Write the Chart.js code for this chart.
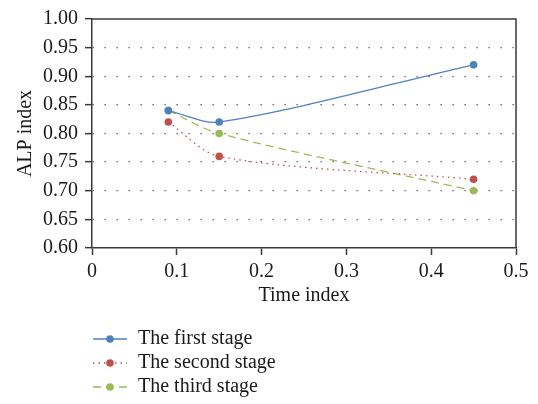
<!DOCTYPE html>
<html><head><meta charset="utf-8">
<script src="https://cdn.jsdelivr.net/npm/chart.js@4"></script>
<style>html,body{margin:0;padding:0;background:#fff}#wrap{width:538px;height:404px;position:relative}</style>
</head><body><div id="wrap"><canvas id="c"></canvas></div>
<script>
const timeIndex = [0.09, 0.15, 0.45];
const firstStage = [0.84, 0.82, 0.92];
const secondStage = [0.82, 0.76, 0.72];
const thirdStage = [0.84, 0.80, 0.70];
const seriesNames = ['The first stage', 'The second stage', 'The third stage'];
const xTitle = 'Time index';
const yTitle = 'ALP index';

const FONT = "'Liberation Serif', 'Times New Roman', serif";
const colors = ['#4f81bd', '#c0504d', '#9bbb59'];
const dashes = [[], [1.5, 4], [8, 5]];
const values = [firstStage, secondStage, thirdStage];

const datasets = values.map((v, i) => ({
  label: seriesNames[i],
  data: timeIndex.map((x, j) => ({x: x, y: v[j]})),
  borderColor: colors[i],
  backgroundColor: colors[i],
  borderWidth: 1.3,
  borderDash: dashes[i],
  pointRadius: 3.8,
  pointHoverRadius: 3.8,
  pointBorderWidth: 0,
  tension: 0.3,
  fill: false
}));

const framePlugin = {
  id: 'frame',
  afterDraw(chart) {
    const {ctx, chartArea: a} = chart;
    ctx.save();
    ctx.strokeStyle = '#3a3a3a';
    ctx.lineWidth = 1.5;
    ctx.beginPath();
    ctx.moveTo(a.left, a.top);
    ctx.lineTo(a.right, a.top);
    ctx.lineTo(a.right, a.bottom);
    ctx.stroke();
    // legend
    const ys = [339, 363, 387];
    chart.data.datasets.forEach((ds, i) => {
      const y = ys[i];
      ctx.strokeStyle = ds.borderColor;
      ctx.lineWidth = 1.3;
      ctx.setLineDash(ds.borderDash || []);
      ctx.beginPath();
      ctx.moveTo(93, y);
      ctx.lineTo(127, y);
      ctx.stroke();
      ctx.setLineDash([]);
      ctx.fillStyle = ds.backgroundColor;
      ctx.beginPath();
      ctx.arc(110, y, 3.8, 0, Math.PI * 2);
      ctx.fill();
      ctx.fillStyle = '#1a1a1a';
      ctx.font = '20px ' + FONT;
      ctx.textBaseline = 'middle';
      ctx.textAlign = 'left';
      ctx.fillText(ds.label, 138, y);
    });
    ctx.restore();
  }
};

new Chart(document.getElementById('c'), {
  type: 'line',
  data: {datasets},
  plugins: [framePlugin],
  options: {
    responsive: true,
    maintainAspectRatio: false,
    animation: false,
    layout: {padding: {top: 12, right: 22, left: 0, bottom: 96}},
    plugins: {legend: {display: false}, tooltip: {enabled: false}},
    scales: {
      x: {
        type: 'linear', min: 0, max: 0.5,
        ticks: {stepSize: 0.1, color: '#1a1a1a', font: {family: FONT, size: 20}, padding: 5,
          callback: v => (Math.round(v * 10) / 10).toString()},
        grid: {display: true, drawOnChartArea: false, drawTicks: true, tickLength: 7, tickColor: '#3a3a3a', tickWidth: 1.5},
        border: {display: true, color: '#3a3a3a', width: 1.5},
        title: {display: true, text: xTitle, color: '#1a1a1a', font: {family: FONT, size: 20}, padding: {top: 0, bottom: 0}},
        afterFit(s) { s.height = 60; }
      },
      y: {
        min: 0.6, max: 1.0,
        ticks: {stepSize: 0.05, color: '#1a1a1a', font: {family: FONT, size: 20}, padding: 7,
          callback: v => v.toFixed(2)},
        grid: {
          display: true, drawOnChartArea: true, drawTicks: true, tickLength: 7,
          tickColor: '#3a3a3a', tickWidth: 1.5, lineWidth: 1.3,
          color: c => (c.tick && (Math.abs(c.tick.value - 0.6) < 1e-6 || Math.abs(c.tick.value - 1.0) < 1e-6)) ? 'rgba(0,0,0,0)' : '#555'
        },
        border: {display: true, color: '#3a3a3a', width: 1.5, dash: [1.3, 10.7], dashOffset: -12},
        title: {display: true, text: yTitle, color: '#1a1a1a', font: {family: FONT, size: 20}, padding: {top: 14, bottom: 0}},
        afterFit(s) { s.width = 92; }
      }
    }
  }
});
</script></body></html>
